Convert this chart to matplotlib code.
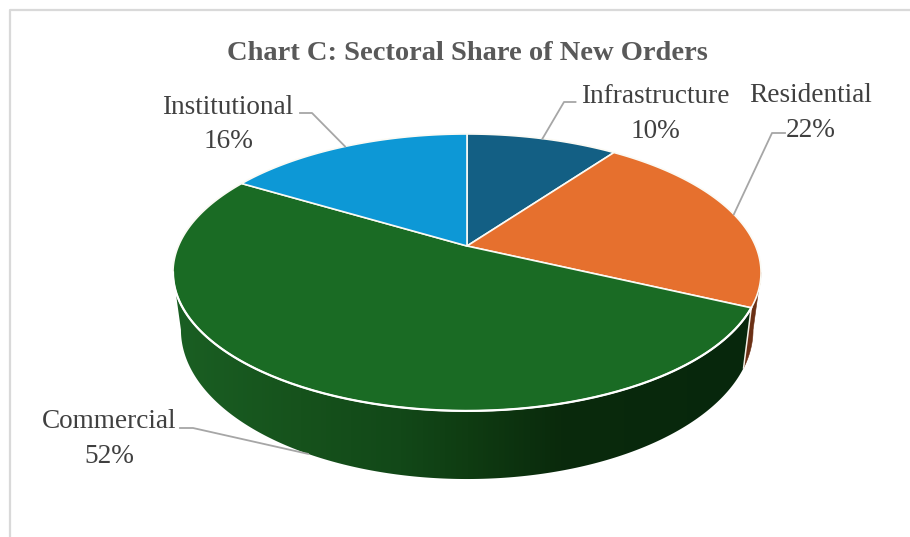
import numpy as np
import matplotlib
matplotlib.use('Agg')
import matplotlib.pyplot as plt
from matplotlib.patches import Polygon

sectors = ['Infrastructure', 'Residential', 'Commercial', 'Institutional']
shares = [10, 22, 51.6, 16.4]
top_colors = ['#135f84', '#e6702e', '#1a6b24', '#0d98d6']

title = 'Chart C: Sectoral Share of New Orders'

# label centres and leader elbows, in pixels
label_pos = [(655, 114), (811, 113), (109, 439), (228, 124.5)]
leader_start = [(575.5, 102), (785, 133), (180, 428), (300, 113)]
leader_elbow = [(564, 102), (772, 133), (193, 428), (312, 113)]

# pie geometry, in pixels
cx = 467.0
k = 0.191
top_a, top_b, top_y = 288.6, 133.4, 246.0
low_a, low_b, low_y = 280.8, 143.7, 301.4

# wall shading, left to right
wall_x = [175, 300, 400, 467, 560, 750]
wall_r = [0x1a, 0x16, 0x12, 0x0f, 0x0a, 0x07]
wall_g = [0x5f, 0x52, 0x48, 0x3c, 0x2a, 0x27]
wall_b = [0x23, 0x1c, 0x18, 0x12, 0x0c, 0x0c]


def rim(theta, a, b, y0):
    # theta clockwise from 12 o'clock, perspective view of a circle
    u = np.sin(theta)
    v = np.cos(theta)
    w = 1 + k * v
    return cx + a * u / w, y0 - b * v / w


def wall_patch(t0, t1):
    th = np.linspace(t0, t1, 200)
    x1, y1 = rim(th, top_a, top_b, top_y)
    x2, y2 = rim(th, low_a, low_b, low_y)
    pts = np.c_[np.r_[x1, x2[::-1]], np.r_[y1, y2[::-1]]]
    return pts


def main():
    fig = plt.figure(figsize=(9.1, 5.37), dpi=100)
    ax = fig.add_axes([0, 0, 1, 1])

    # chart frame, runs off the picture on the right and at the bottom
    ax.plot([9.5, 9.5, 915], [545, 10, 10], color='#d9d9d9', lw=1.6, zorder=1)

    edges = np.cumsum([0] + shares) / sum(shares) * 2 * np.pi
    left_limit = np.radians(259)
    right_limit = np.radians(101)

    # brown bit of the wall that shows behind the green one
    brown = Polygon(wall_patch(right_limit, edges[2]), closed=True, facecolor='#6b3015',
                    edgecolor='#6b3015', lw=0.4, zorder=2)
    ax.add_patch(brown)

    # green wall, gradient clipped to the wall outline
    green = Polygon(wall_patch(edges[2], left_limit), closed=True, facecolor='none',
                    edgecolor='none', zorder=2)
    ax.add_patch(green)
    xs = np.arange(170, 760)
    grad = np.c_[np.interp(xs, wall_x, wall_r),
                 np.interp(xs, wall_x, wall_g),
                 np.interp(xs, wall_x, wall_b)][np.newaxis, :, :] / 255
    im = ax.imshow(grad, extent=(170, 760, 490, 260), aspect='auto', zorder=2.1)
    im.set_clip_path(green)

    # white seam where Residential meets Commercial on the wall
    sx1, sy1 = rim(edges[2], top_a, top_b, top_y)
    sx2, sy2 = rim(edges[2], low_a, low_b, low_y)
    ax.plot([sx1, sx2], [sy1, sy2], color='#f4f1e8', lw=1.1, zorder=3)

    # top face
    for i in range(len(shares)):
        th = np.linspace(edges[i], edges[i + 1], int(shares[i] * 8) + 2)
        x, y = rim(th, top_a, top_b, top_y)
        ax.fill(np.r_[cx, x], np.r_[top_y, y], facecolor=top_colors[i], edgecolor='#fbfaf4',
                lw=1.2, joinstyle='round', zorder=4)

    # rim line along the front of the green slice
    th = np.linspace(edges[2], left_limit, 200)
    x, y = rim(th, top_a, top_b, top_y)
    ax.plot(x, y, color='white', lw=1.6, zorder=4.5)

    # labels and leaders
    mids = (edges[:-1] + edges[1:]) / 2
    for i in range(len(shares)):
        if sectors[i] == 'Commercial':
            ex, ey = rim(mids[i], low_a, low_b, low_y)
        else:
            ex, ey = rim(mids[i], top_a, top_b, top_y)
        ax.plot([leader_start[i][0], leader_elbow[i][0], ex],
                [leader_start[i][1], leader_elbow[i][1], ey],
                color='#a6a6a6', lw=1.3, zorder=5)
        ax.text(label_pos[i][0], label_pos[i][1], f'{sectors[i]}\n{round(shares[i])}%',
                ha='center', va='center', ma='center', color='#404040',
                family='Liberation Serif', fontsize=19.6, linespacing=1.48, zorder=6)

    ax.text(467, 60, title, ha='center', va='baseline', color='#595959',
            family='Liberation Serif', fontweight='bold', fontsize=20.5, zorder=6)

    ax.set_xlim(0, 910)
    ax.set_ylim(537, 0)
    ax.axis('off')

    fig.savefig('out.png', dpi=100)


if __name__ == "__main__":

    main()
